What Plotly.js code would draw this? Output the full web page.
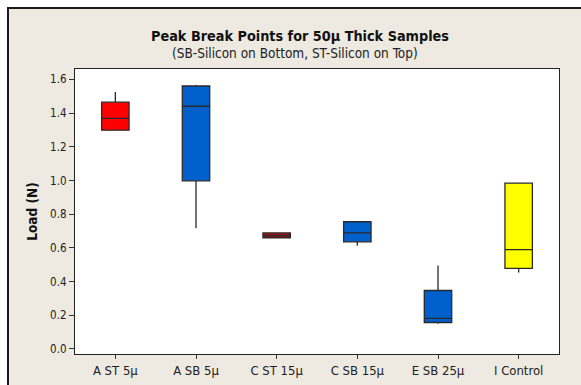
<!DOCTYPE html>
<html>
<head>
<meta charset="utf-8">
<script src="https://cdn.plot.ly/plotly-3.0.1.min.js"></script>
<style>
  html, body { margin: 0; padding: 0; background: #ffffff; width: 581px; height: 385px; overflow: hidden; }
  #frame { position: absolute; left: 7px; top: 7px; width: 574px; height: 378px;
           border-left: 2px solid #1a1a1a; border-top: 2px solid #1a1a1a; background: #EEEAE1; }
  #chart { width: 574px; height: 378px; }
</style>
</head>
<body>
<div id="frame"><div id="chart"></div></div>
<script>
// Data
const categories = ["A ST 5µ", "A SB 5µ", "C ST 15µ", "C SB 15µ", "E SB 25µ", "I Control"];
const lowerWhisker = [1.299, 0.717, 0.659, 0.612, 0.149, 0.454];
const q1Values     = [1.299, 0.998, 0.659, 0.636, 0.157, 0.478];
const medianValues = [1.369, 1.441, 0.672, 0.689, 0.181, 0.590];
const q3Values     = [1.465, 1.561, 0.689, 0.755, 0.347, 0.984];
const upperWhisker = [1.525, 1.567, 0.689, 0.755, 0.496, 0.984];
const boxColors = ["#FF0000", "#0060CC", "#9A1414", "#0060CC", "#0060CC", "#FFFF00"];
const yTicks = [0, 0.2, 0.4, 0.6, 0.8, 1.0, 1.2, 1.4, 1.6];
const titleText = "Peak Break Points for 50µ Thick Samples";
const subtitleText = "(SB-Silicon on Bottom, ST-Silicon on Top)";

const fontFam = "'DejaVu Sans Condensed', Tahoma, 'DejaVu Sans', sans-serif";

const traces = categories.map((c, i) => ({
  type: "box",
  x: [c],
  q1: [q1Values[i]],
  median: [medianValues[i]],
  q3: [q3Values[i]],
  lowerfence: [lowerWhisker[i]],
  upperfence: [upperWhisker[i]],
  boxpoints: false,
  width: 0.34,
  whiskerwidth: 0,
  fillcolor: boxColors[i],
  line: { color: "#2a2a2a", width: 1.3 },
  showlegend: false,
  hoverinfo: "skip"
}));

const layout = {
  width: 574, height: 378,
  paper_bgcolor: "#EEEAE1",
  plot_bgcolor: "#FFFFFF",
  margin: { l: 66, r: 24, t: 60, b: 33 },
  boxmode: "overlay",
  font: { family: fontFam, color: "#222222", size: 11 },
  title: {
    text: "<b>" + titleText + "</b>",
    font: { family: fontFam, size: 14.3, color: "#111111" },
    x: 0.507, xanchor: "center", xref: "container",
    y: 1 - 27 / 378, yanchor: "middle", yref: "container"
  },
  annotations: [{
    text: subtitleText,
    xref: "paper", yref: "paper", x: 0.455, y: (345 - 44) / 285,
    xanchor: "center", yanchor: "middle", showarrow: false,
    font: { family: fontFam, size: 13.5, color: "#222222" }
  }],
  xaxis: {
    type: "category",
    categoryarray: categories,
    range: [-0.5, 5.5],
    showline: true, linecolor: "#222222", linewidth: 1.2, mirror: true,
    ticks: "outside", ticklen: 4, tickcolor: "#333333",
    showgrid: false, zeroline: false,
    tickfont: { size: 13, family: fontFam, color: "#222222" }
  },
  yaxis: {
    range: [-0.03, 1.662],
    tickvals: yTicks,
    tickformat: ".1f",
    showline: true, linecolor: "#222222", linewidth: 1.2, mirror: true,
    ticks: "outside", ticklen: 5, tickcolor: "#333333",
    showgrid: false, zeroline: false,
    tickfont: { size: 11.5, family: fontFam, color: "#222222" },
    title: { text: "<b>Load (N)</b>", font: { size: 13.5, family: fontFam, color: "#111111" }, standoff: 9 }
  }
};

Plotly.newPlot("chart", traces, layout, { displayModeBar: false, staticPlot: true });
</script>
</body>
</html>
